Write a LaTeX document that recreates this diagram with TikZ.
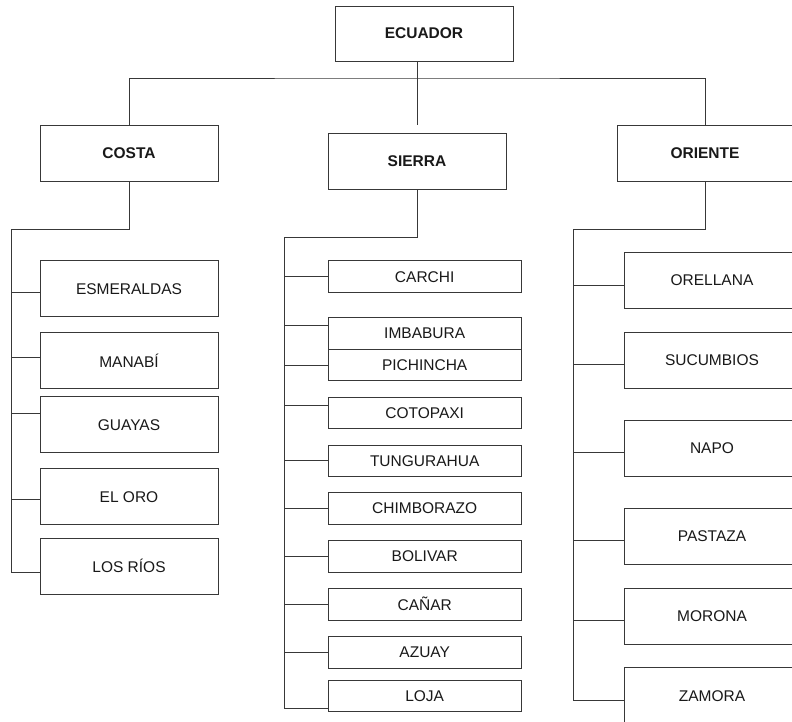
\documentclass[tikz,border=0pt]{standalone}
\usepackage{fontspec}
\setmainfont{Liberation Sans}
\definecolor{linec}{gray}{0.22}
\newcommand{\fsize}{\fontsize{15.5}{18}\selectfont}
\begin{document}
\begin{tikzpicture}[x=1pt,y=-1pt,
  box/.style={draw=linec, line width=0.9pt, inner sep=0pt, font=\fsize, text=black!90},
  big/.style={box, minimum width=178pt, minimum height=56pt, font=\fsize\bfseries},
  costabox/.style={box, minimum width=178pt, minimum height=56pt},
  sierrabox/.style={box, minimum width=193pt, minimum height=31.7pt},
  orientebox/.style={box, minimum width=176pt, minimum height=56pt},
  conn/.style={draw=linec, line width=0.9pt}]
\useasboundingbox (0,0) rectangle (792,722);
\clip (0,0) rectangle (792,722);
\fill[white] (0,0) rectangle (792,722);

% top level
\node[big, minimum height=55pt] (ecuador) at (424,33.5) {ECUADOR};
\node[big] (costa) at (129,153) {COSTA};
\node[big] (sierra) at (417,161) {SIERRA};
\node[big, minimum width=176pt] (oriente) at (705,153) {ORIENTE};

\coordinate (bus) at (417,78);
\coordinate (stop) at (417,125);
\draw[conn] (costa.north) |- (bus) -| (oriente.north);
\draw[conn] (ecuador.south -| stop) -- (stop);

% Costa
\foreach \n/\c/\k/\t in {esm/288.7/292.7/ESMERALDAS, man/360.7/357.3/MANABÍ, gua/424.8/413.3/GUAYAS, oro/496.8/499.3/EL ORO, rio/566.3/572.7/LOS RÍOS}{
  \node[costabox] (\n) at (129,\c) {\t};
  \coordinate (k\n) at (\n.west |- 0,\k);
}
\coordinate (cbus) at (11,229);
\draw[conn] (costa.south) |- (cbus) -- (cbus |- krio);
\foreach \n in {esm,man,gua,oro,rio}{
  \draw[conn] (cbus |- k\n) -- (k\n);
}

% Sierra
\foreach \n/\c/\k/\t in {car/276.7/276.7/CARCHI, imb/333.2/325/IMBABURA, pic/364.8/365/PICHINCHA, cot/412.8/405/COTOPAXI, tun/460.8/460.7/TUNGURAHUA, chi/508.3/508.3/CHIMBORAZO, bol/556.3/556/BOLIVAR, can/604.2/604.3/CAÑAR, azu/652.3/652.7/AZUAY, loj/696/708/LOJA}{
  \node[sierrabox] (\n) at (424.7,\c) {\t};
  \coordinate (k\n) at (\n.west |- 0,\k);
}
\coordinate (sbus) at (284,237);
\draw[conn] (sierra.south) |- (sbus) -- (sbus |- kloj);
\foreach \n in {car,imb,pic,cot,tun,chi,bol,can,azu,loj}{
  \draw[conn] (sbus |- k\n) -- (k\n);
}

% Oriente
\foreach \n/\c/\k/\t in {ore/280.3/285/ORELLANA, suc/360.5/364/SUCUMBIOS, nap/448.3/452.7/NAPO, pas/536.3/540.7/PASTAZA, mor/616.3/620.7/MORONA, zam/695.7/700/ZAMORA}{
  \node[orientebox] (\n) at (712,\c) {\t};
  \coordinate (k\n) at (\n.west |- 0,\k);
}
\coordinate (obus) at (573,229);
\draw[conn] (oriente.south) |- (obus) -- (obus |- kzam);
\foreach \n in {ore,suc,nap,pas,mor,zam}{
  \draw[conn] (obus |- k\n) -- (k\n);
}
\end{tikzpicture}
\end{document}
